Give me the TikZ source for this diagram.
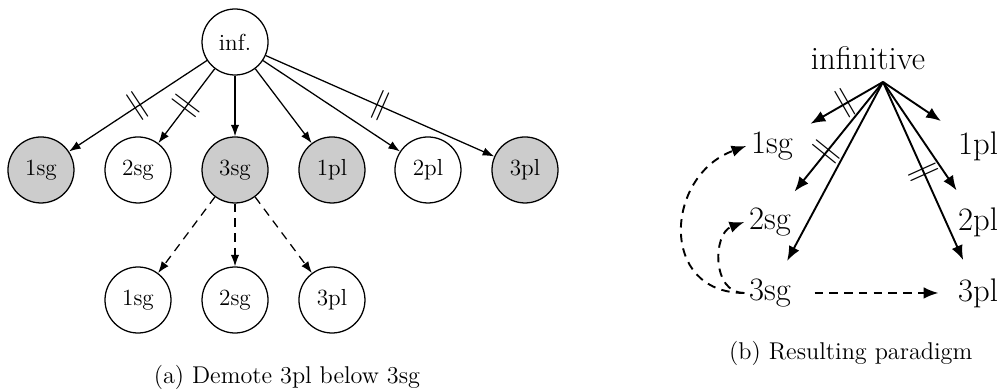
\documentclass[tikz,border=0pt]{standalone}
\usepackage{amsmath}
\usepackage{amssymb}
\usetikzlibrary{arrows.meta}

\begin{document}
\begin{tikzpicture}[line width = 0.6pt, >={Latex[length = 5.5pt, width = 4pt]},
                        shaded/.style = {circle, draw, fill = black!20, minimum size = 1.1cm, inner sep = 0pt, font = \fontsize{11}{13}\selectfont},
                        empty/.style = {circle, draw, fill = white, minimum size = 1.1cm, inner sep = 0pt, font = \fontsize{11}{13}\selectfont},
                        form/.style = {font = \fontsize{15.5}{18}\selectfont, inner sep = 2pt},
                        caption/.style = {font = \fontsize{11.5}{14}\selectfont},
                        link/.style = {line width = 0.9pt, -{Latex[length = 7pt, width = 5.5pt]}},
                        cut/.style = {sloped, inner sep = 0pt, font = \Large}]
      \useasboundingbox (0, 0) rectangle (16.7, 6.533);

      % (a) demote 3pl below 3sg
      \node [empty] (inf) at (3.917, 5.833){inf.};
      \node [shaded] (r1sg) at (0.683, 3.7){1sg};
      \node [empty] (r2sg) at (2.3, 3.7){2sg};
      \node [shaded] (r3sg) at (3.917, 3.7){3sg};
      \node [shaded] (r1pl) at (5.533, 3.7){1pl};
      \node [empty] (r2pl) at (7.133, 3.7){2pl};
      \node [shaded] (r3pl) at (8.75, 3.7){3pl};
      \node [empty] (d1sg) at (2.3, 1.533){1sg};
      \node [empty] (d2sg) at (3.917, 1.533){2sg};
      \node [empty] (d3pl) at (5.533, 1.533){3pl};

      \draw [->] (inf) -- node [cut]{$\parallel$} (r1sg);
      \draw [->] (inf) -- node [cut]{$\parallel$} (r2sg);
      \draw [->] (inf) -- (r3sg);
      \draw [->] (inf) -- (r1pl);
      \draw [->] (inf) -- (r2pl);
      \draw [->] (inf) -- node [cut]{$\parallel$} (r3pl);

      \draw [->, dash pattern = on 4pt off 3pt] (r3sg) -- (d1sg);
      \draw [->, dash pattern = on 4pt off 3pt] (r3sg) -- (d2sg);
      \draw [->, dash pattern = on 4pt off 3pt] (r3sg) -- (d3pl);

      \node [caption] (capa) at (4.783, 0.25){(a) Demote 3pl below 3sg};

      % (b) resulting paradigm
      \node [form] (infinitive) at (14.467, 5.567){infinitive};
      \coordinate (apex) at (14.717, 5.167);
      \node [form] (p1sg) at (12.867, 4.1){1sg};
      \node [form] (p2sg) at (12.833, 2.833){2sg};
      \node [form] (p3sg) at (12.833, 1.65){3sg};
      \node [form] (p1pl) at (16.3, 4.1){1pl};
      \node [form] (p2pl) at (16.3, 2.833){2pl};
      \node [form] (p3pl) at (16.3, 1.65){3pl};

      \draw [link, shorten >= 7pt] (apex) -- node [cut, pos = 0.44]{$\parallel$} (p1sg);
      \draw [link, shorten >= 7pt] (apex) -- node [cut, pos = 0.58]{$\parallel$} (p2sg);
      \draw [link, shorten >= 7pt] (apex) -- (p3sg);
      \draw [link, shorten >= 7pt] (apex) -- (p1pl);
      \draw [link, shorten >= 7pt] (apex) -- (p2pl);
      \draw [link, shorten >= 7pt] (apex) -- node [cut, pos = 0.47]{$\parallel$} (p3pl);

      \draw [link, dash pattern = on 4pt off 3pt, shorten <= 9pt, shorten >= 7pt] (p3sg) -- (p3pl);
      \draw [link, dash pattern = on 4pt off 3pt] (p3sg.west) to [out = 180, in = 200, looseness = 1.5] (p1sg.west);
      \draw [link, dash pattern = on 4pt off 3pt] (p3sg.west) to [out = 180, in = 200, looseness = 1.2] (p2sg.west);

      \node [caption] (capb) at (14.18, 0.65){(b) Resulting paradigm};
      \end{tikzpicture}
\end{document}
